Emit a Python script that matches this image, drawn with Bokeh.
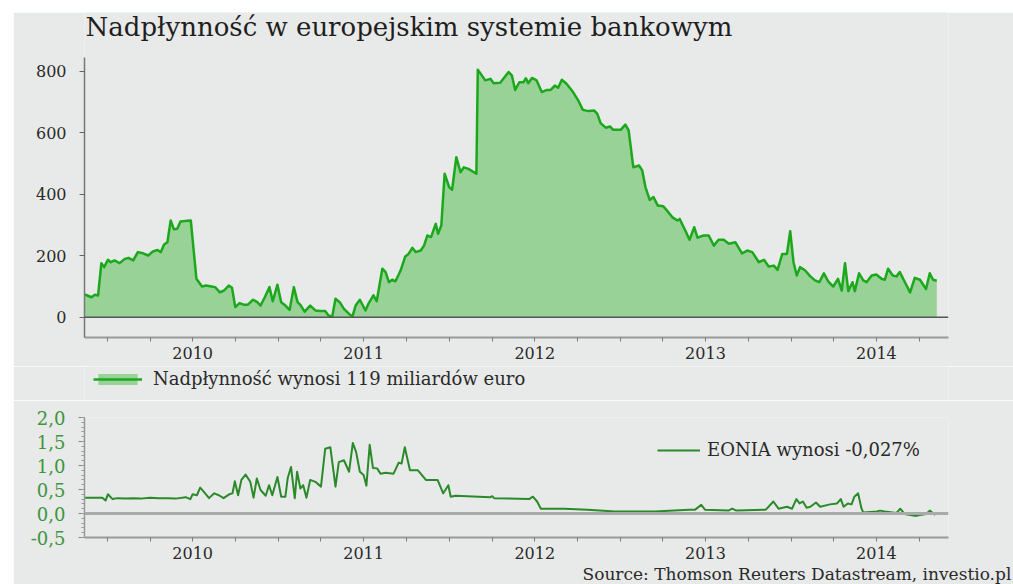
import datetime as dt
from bokeh.plotting import figure
from bokeh.models import (ColumnDataSource, FixedTicker, CustomJSTickFormatter, Span,
                          Legend, LegendItem, Title, Label, Range1d)
from bokeh.layouts import column
from bokeh.embed import file_html
from bokeh.resources import INLINE

# ---------------- data ----------------
TITLE = "Nadpłynność w europejskim systemie bankowym"
LIQ_LABEL = "Nadpłynność wynosi 119 miliardów euro"
EONIA_LABEL = "EONIA wynosi -0,027%"
SOURCE = "Source: Thomson Reuters Datastream, investio.pl"

QUARTER_STARTS = ["2009-10-01",
                  "2010-01-01", "2010-04-01", "2010-07-01", "2010-10-01",
                  "2011-01-01", "2011-04-01", "2011-07-01", "2011-10-01",
                  "2012-01-01", "2012-04-01", "2012-07-01", "2012-10-01",
                  "2013-01-01", "2013-04-01", "2013-07-01", "2013-10-01",
                  "2014-01-01", "2014-04-01", "2014-07-01", "2014-10-01"]
X_START, X_END = "2009-11-12", "2014-12-02"

liq_dates = ["2009-11-13", "2009-11-27", "2009-12-04", "2009-12-11", "2009-12-18", "2009-12-24",
             "2010-01-01", "2010-01-07", "2010-01-15", "2010-01-26", "2010-02-06", "2010-02-14",
             "2010-02-24", "2010-03-06", "2010-03-17", "2010-03-28", "2010-04-07", "2010-04-17",
             "2010-04-24", "2010-05-01", "2010-05-08", "2010-05-15", "2010-05-22", "2010-05-29",
             "2010-06-05", "2010-06-14", "2010-06-27", "2010-07-09", "2010-07-21", "2010-07-30",
             "2010-08-10", "2010-08-18", "2010-08-28", "2010-09-06", "2010-09-16", "2010-09-23",
             "2010-09-30", "2010-10-09", "2010-10-18", "2010-10-27", "2010-11-07", "2010-11-16",
             "2010-11-23", "2010-12-02", "2010-12-12", "2010-12-19", "2010-12-29", "2011-01-06",
             "2011-01-15", "2011-01-24", "2011-02-02", "2011-02-10", "2011-02-16", "2011-02-25",
             "2011-03-09", "2011-03-20", "2011-03-31", "2011-04-10", "2011-04-17", "2011-04-25",
             "2011-05-02", "2011-05-11", "2011-05-20", "2011-05-31", "2011-06-07", "2011-06-14",
             "2011-06-23", "2011-07-05", "2011-07-12", "2011-07-22", "2011-07-29", "2011-08-10",
             "2011-08-17", "2011-08-24", "2011-08-31", "2011-09-07", "2011-09-18", "2011-09-28",
             "2011-10-05", "2011-10-13", "2011-10-20", "2011-10-31", "2011-11-07", "2011-11-14",
             "2011-11-22", "2011-12-02", "2011-12-07", "2011-12-14", "2011-12-21", "2011-12-31",
             "2012-01-06", "2012-01-15", "2012-01-24", "2012-01-31", "2012-02-10", "2012-02-27",
             "2012-03-01", "2012-03-17", "2012-03-28", "2012-04-04", "2012-04-18", "2012-05-06",
             "2012-05-13", "2012-05-20", "2012-05-29", "2012-06-07", "2012-06-12", "2012-06-17",
             "2012-06-25", "2012-07-05", "2012-07-16", "2012-07-27", "2012-08-04", "2012-08-13",
             "2012-08-20", "2012-08-28", "2012-09-07", "2012-09-21", "2012-10-02", "2012-10-12",
             "2012-10-24", "2012-11-05", "2012-11-12", "2012-11-19", "2012-11-30", "2012-12-09",
             "2012-12-16", "2013-01-01", "2013-01-11", "2013-01-18", "2013-01-28", "2013-02-09",
             "2013-02-16", "2013-02-23", "2013-03-04", "2013-03-12", "2013-03-21", "2013-04-02",
             "2013-04-10", "2013-04-21", "2013-05-02", "2013-05-07", "2013-05-19", "2013-05-28",
             "2013-06-07", "2013-06-14", "2013-06-27", "2013-07-08", "2013-07-19", "2013-07-29",
             "2013-08-09", "2013-08-20", "2013-09-03", "2013-09-17", "2013-09-28", "2013-10-09",
             "2013-10-23", "2013-11-03", "2013-11-13", "2013-11-24", "2013-12-02", "2013-12-12",
             "2013-12-22", "2013-12-29", "2014-01-05", "2014-01-12", "2014-01-19", "2014-01-30",
             "2014-02-10", "2014-02-20", "2014-03-01", "2014-03-11", "2014-03-20", "2014-03-31",
             "2014-04-10", "2014-04-18", "2014-04-25", "2014-05-02", "2014-05-11", "2014-05-16",
             "2014-05-25", "2014-06-03", "2014-06-10", "2014-06-21", "2014-07-01", "2014-07-12",
             "2014-07-19", "2014-07-26", "2014-08-05", "2014-08-13", "2014-08-20", "2014-08-31",
             "2014-09-11", "2014-09-21", "2014-10-02", "2014-10-15", "2014-10-23", "2014-10-30",
             "2014-11-07"]
liq_values = [74, 65, 73, 71, 176, 163,
              187, 179, 185, 176, 190, 193,
              185, 212, 208, 201, 214, 219,
              212, 237, 244, 315, 286, 288,
              312, 313, 315, 125, 100, 103,
              100, 98, 81, 87, 103, 96,
              33, 46, 41, 41, 57, 49,
              38, 65, 98, 52, 106, 49,
              38, 24, 98, 49, 40, 18,
              38, 22, 20, 20, 6, 2,
              60, 49, 27, 11, 2, 38,
              57, 22, 46, 71, 52, 158,
              147, 114, 122, 117, 152, 198,
              206, 226, 212, 217, 233, 266,
              261, 304, 272, 299, 467, 423,
              415, 521, 472, 488, 483, 467,
              806, 771, 776, 762, 763, 798,
              787, 740, 765, 765, 778, 762,
              779, 771, 733, 740, 740, 754,
              747, 773, 760, 733, 706, 675,
              671, 673, 662, 632, 617, 621,
              610, 610, 627, 608, 488, 494,
              478, 423, 382, 391, 364, 361,
              347, 326, 315, 320, 282, 252,
              293, 259, 266, 266, 233, 252,
              252, 239, 244, 208, 217, 212,
              179, 187, 165, 168, 154, 206,
              206, 280, 179, 136, 163, 152,
              133, 120, 114, 143, 117, 100,
              125, 87, 176, 85, 114, 85,
              143, 120, 114, 136, 139, 125,
              122, 158, 136, 133, 147, 114,
              81, 128, 122, 92, 143, 122,
              119]

eonia_dates = ["2009-11-13", "2009-12-20", "2009-12-27", "2010-01-01", "2010-01-11", "2010-01-21",
               "2010-02-08", "2010-02-25", "2010-03-12", "2010-04-01", "2010-04-20", "2010-05-08",
               "2010-05-26", "2010-06-16", "2010-06-26", "2010-07-01", "2010-07-10", "2010-07-17",
               "2010-07-25", "2010-08-05", "2010-08-16", "2010-08-26", "2010-09-05", "2010-09-17",
               "2010-09-24", "2010-09-29", "2010-10-06", "2010-10-13", "2010-10-22", "2010-11-01",
               "2010-11-08", "2010-11-15", "2010-11-23", "2010-12-04", "2010-12-11", "2010-12-18",
               "2010-12-29", "2011-01-06", "2011-01-15", "2011-01-20", "2011-01-27", "2011-02-04",
               "2011-02-09", "2011-02-16", "2011-02-22", "2011-03-01", "2011-03-09", "2011-03-20",
               "2011-04-01", "2011-04-10", "2011-04-21", "2011-05-02", "2011-05-09", "2011-05-20",
               "2011-05-31", "2011-06-08", "2011-06-15", "2011-06-23", "2011-07-01", "2011-07-07",
               "2011-07-14", "2011-07-21", "2011-07-30", "2011-08-06", "2011-08-17", "2011-09-03",
               "2011-09-14", "2011-09-20", "2011-09-27", "2011-10-08", "2011-10-25", "2011-11-11",
               "2011-12-06", "2011-12-18", "2011-12-29", "2012-01-03", "2012-01-13", "2012-03-28",
               "2012-04-01", "2012-04-05", "2012-06-19", "2012-06-27", "2012-07-06", "2012-07-14",
               "2012-09-02", "2012-10-22", "2012-12-20", "2013-03-14", "2013-04-25", "2013-05-28",
               "2013-06-09", "2013-06-22", "2013-06-30", "2013-08-19", "2013-08-27", "2013-09-05",
               "2013-11-07", "2013-11-23", "2013-12-04", "2013-12-22", "2014-01-02", "2014-01-11",
               "2014-01-18", "2014-01-25", "2014-02-02", "2014-02-10", "2014-02-22", "2014-03-03",
               "2014-03-24", "2014-04-08", "2014-04-16", "2014-04-22", "2014-05-01", "2014-05-09",
               "2014-05-15", "2014-05-23", "2014-05-30", "2014-06-03", "2014-07-02", "2014-07-09",
               "2014-07-19", "2014-08-13", "2014-08-21", "2014-08-30", "2014-09-24", "2014-10-02",
               "2014-10-15", "2014-10-23", "2014-11-04"]
eonia_values = [0.33, 0.33, 0.27, 0.40, 0.30, 0.32,
                0.31, 0.32, 0.31, 0.33, 0.32, 0.32,
                0.31, 0.34, 0.30, 0.40, 0.38, 0.54,
                0.45, 0.32, 0.42, 0.38, 0.32, 0.40,
                0.42, 0.67, 0.38, 0.70, 0.81, 0.66,
                0.33, 0.73, 0.49, 0.37, 0.59, 0.38,
                0.76, 0.35, 0.35, 0.74, 0.97, 0.32,
                0.87, 0.52, 0.59, 0.33, 0.70, 0.66,
                0.56, 1.35, 1.38, 0.56, 1.07, 1.11,
                0.87, 1.47, 1.28, 0.87, 0.80, 0.58,
                1.43, 0.95, 0.94, 0.83, 0.85, 0.83,
                1.06, 1.04, 1.38, 0.90, 0.90, 0.70,
                0.70, 0.42, 0.59, 0.35, 0.37, 0.34,
                0.36, 0.32, 0.30, 0.35, 0.25, 0.10,
                0.10, 0.08, 0.04, 0.04, 0.06, 0.08,
                0.08, 0.18, 0.08, 0.06, 0.10, 0.06,
                0.08, 0.25, 0.10, 0.14, 0.10, 0.30,
                0.21, 0.25, 0.12, 0.14, 0.23, 0.14,
                0.19, 0.21, 0.30, 0.14, 0.21, 0.19,
                0.35, 0.42, 0.11, 0.02, 0.04, 0.06,
                0.04, 0.01, 0.10, -0.01, -0.05, -0.03,
                -0.01, 0.06, -0.03]

LIQ_TICKS = [0, 200, 400, 600, 800]
EONIA_TICKS = [-0.5, 0.0, 0.5, 1.0, 1.5, 2.0]
EONIA_MINOR = [-0.5, -0.4, -0.3, -0.2, -0.1, 0.0, 0.1, 0.2, 0.3, 0.4, 0.5, 0.6, 0.7, 0.8, 0.9,
               1.0, 1.1, 1.2, 1.3, 1.4, 1.5, 1.6, 1.7, 1.8, 1.9, 2.0]


def dec_year(s):
    d = dt.date.fromisoformat(s)
    start = dt.date(d.year, 1, 1)
    n = (dt.date(d.year + 1, 1, 1) - start).days
    return d.year + (d - start).days / n


# ---------------- styling ----------------
BG = "#e8e9e9"
FONT = "DejaVu Serif"
TXT = "#2a2a2a"
FILL = "#98d296"
LINE = "#1ca81c"
ELINE = "#2a8a2a"
ELABEL = "#3c963c"

W = 1000          # page: 13px white strip on the left, 12px on top
LEFT, RIGHT = 71, 65

xr = Range1d(dec_year(X_START), dec_year(X_END))
qticks = [dec_year(s) for s in QUARTER_STARTS]
year_fmt = CustomJSTickFormatter(code="""
    const f = tick - Math.floor(tick);
    return (f > 0.45 && f < 0.55) ? String(Math.floor(tick)) : "";
""")


def base_fig(**kw):
    f = figure(width=W, output_backend="svg", toolbar_location=None,
               min_border_left=LEFT, min_border_right=RIGHT, **kw)
    f.background_fill_color = BG
    f.border_fill_color = BG
    f.outline_line_color = None
    f.grid.grid_line_color = None
    return f


def style_x(ax):
    ax.ticker = FixedTicker(ticks=qticks)
    ax.formatter = year_fmt
    ax.axis_line_color = "#9a9a9a"
    ax.axis_line_width = 2
    ax.major_tick_line_color = "#777777"
    ax.major_tick_in = 0
    ax.major_tick_out = 4
    ax.minor_tick_line_color = None
    ax.major_label_standoff = 5
    ax.major_label_text_font = FONT
    ax.major_label_text_font_size = "16px"
    ax.major_label_text_color = TXT


# ---------------- top chart (frame reaches up to hold the title) ----------------
Y_LO, Y_AXIS_HI, Y_FRAME_HI = -66, 846, 992
p = base_fig(height=354, x_range=xr, y_range=Range1d(Y_LO, Y_FRAME_HI),
             min_border_top=0, min_border_bottom=29)

src = ColumnDataSource(dict(x=[dec_year(s) for s in liq_dates], y=liq_values))
area = p.varea(x="x", y1=0, y2="y", source=src, fill_color=FILL, fill_alpha=1)
ln = p.line(x="x", y="y", source=src, line_color=LINE, line_width=2.5, line_join="round")
p.add_layout(Span(location=0, dimension="width", line_color="#555555", line_width=1.5))

style_x(p.xaxis[0])
ya = p.yaxis[0]
ya.bounds = (Y_LO, Y_AXIS_HI)
ya.ticker = FixedTicker(ticks=LIQ_TICKS)
ya.axis_line_color = "#777777"
ya.axis_line_width = 1.5
ya.major_tick_line_color = "#666666"
ya.major_tick_in = 0
ya.major_tick_out = 5
ya.minor_tick_line_color = None
ya.major_label_standoff = 13
ya.major_label_text_font = FONT
ya.major_label_text_font_size = "16px"
ya.major_label_text_color = TXT

p.add_layout(Label(x=xr.start, y=944, x_offset=1, text=TITLE, text_baseline="alphabetic",
                   text_font=FONT, text_font_size="26px", text_color="#1e1e1e"))

# ---------------- legend strip for the top chart ----------------
s = base_fig(height=34, x_range=Range1d(0, 1), y_range=Range1d(0, 1),
             x_axis_location=None, y_axis_location=None,
             min_border_top=0, min_border_bottom=0)
s_area = s.varea(x="x", y1=0, y2="y", source=src, fill_color=FILL, fill_alpha=1)
s_line = s.line(x="x", y="y", source=src, line_color=LINE, line_width=2.5)
s.add_layout(Legend(items=[LegendItem(label=LIQ_LABEL, renderers=[s_area, s_line])],
                    location=(9, 11), border_line_color=None, background_fill_alpha=0,
                    padding=0, margin=0, glyph_width=49, glyph_height=14, label_height=16,
                    label_standoff=11, label_text_font=FONT, label_text_font_size="18px",
                    label_text_color=TXT))

# ---------------- bottom chart ----------------
q = base_fig(height=184, x_range=xr, y_range=Range1d(-0.5, 2.0),
             min_border_top=17, min_border_bottom=47)

q.add_layout(Span(location=0, dimension="width", line_color="#aaaaaa", line_width=3))
esrc = ColumnDataSource(dict(x=[dec_year(s) for s in eonia_dates], y=eonia_values))
eln = q.line(x="x", y="y", source=esrc, line_color=ELINE, line_width=2, line_join="round")

style_x(q.xaxis[0])
qa = q.yaxis[0]
qa.ticker = FixedTicker(ticks=EONIA_TICKS, minor_ticks=EONIA_MINOR)
qa.formatter = CustomJSTickFormatter(code="return tick.toFixed(1).replace('.', ',');")
qa.axis_line_color = "#999999"
qa.axis_line_width = 1.5
qa.major_tick_line_color = "#888888"
qa.major_tick_in = 0
qa.major_tick_out = 6
qa.minor_tick_line_color = "#999999"
qa.minor_tick_in = 0
qa.minor_tick_out = 3
qa.major_label_standoff = 13
qa.major_label_text_font = FONT
qa.major_label_text_font_size = "18px"
qa.major_label_text_color = ELABEL

q.add_layout(Legend(items=[LegendItem(label=EONIA_LABEL, renderers=[eln])],
                    location=(573, 77), border_line_color=None, background_fill_alpha=0,
                    padding=0, margin=0, glyph_width=43, glyph_height=16, label_height=16,
                    label_standoff=7, label_text_font=FONT, label_text_font_size="18px",
                    label_text_color=TXT))

q.add_layout(Title(text=SOURCE, align="left", offset=498, standoff=0,
                   text_font=FONT, text_font_size="17px", text_font_style="normal",
                   text_color=TXT), "below")

layout = column(p, s, q, spacing=0, margin=(12, 0, 0, 13))
open("out.html", "w").write(file_html(layout, INLINE))
